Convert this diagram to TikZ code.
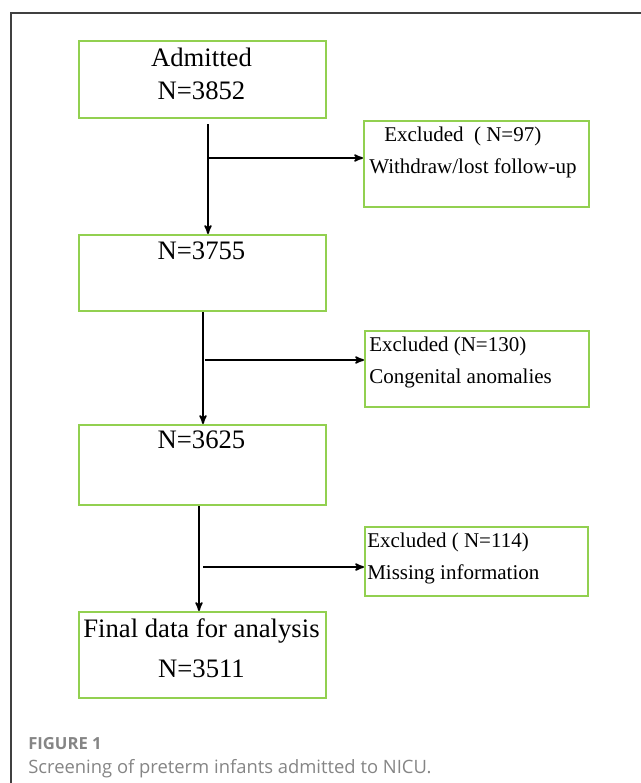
\documentclass[tikz,border=0pt]{standalone}
\usepackage{fontspec}
\setmainfont{Liberation Serif}
\newfontfamily\capfont{Open Sans}
\usepackage{tikz}
\usetikzlibrary{arrows,positioning}

\definecolor{boxgreen}{HTML}{92D050}
\definecolor{framegray}{HTML}{404040}
\definecolor{capgray}{HTML}{858585}

\begin{document}
\begin{tikzpicture}[x=0.75pt,y=-0.75pt,>=stealth',
  box/.style={draw=boxgreen,line width=1.5pt,anchor=north west,inner sep=0pt},
  mainbox/.style={box,minimum width=185.25pt},
  exbox/.style={box,minimum width=168pt},
  bigtxt/.style={anchor=base,inner sep=0pt,font=\fontsize{20}{24}\selectfont},
  smalltxt/.style={anchor=base west,inner sep=0pt,font=\fontsize{15.75}{19}\selectfont},
  arr/.style={->,line width=1.3pt}]

\useasboundingbox (0,0) rectangle (641,783);
\draw[framegray,line width=0.9pt] (11,783) -- (11,13) -- (641,13);

% flow boxes
\node[mainbox,minimum height=57.75pt] (B1) at (78,40) {};
\node[mainbox,minimum height=57pt]    (B2) at (78,234) {};
\node[mainbox,minimum height=60pt]    (B3) at (78,424) {};
\node[mainbox,minimum height=64.5pt]  (B4) at (78,611) {};

% exclusion boxes
\node[exbox,minimum width=168.75pt,minimum height=64.5pt] (E1) at (363,120) {};
\node[exbox,minimum height=57pt]    (E2) at (364,330) {};
\node[exbox,minimum width=167.25pt,minimum height=51.75pt] (E3) at (364,526) {};

% texts
\node[bigtxt] (T1a) at (201.5,66) {Admitted};
\node[bigtxt] (T1b) at (201.5,99) {N=3852};
\node[bigtxt] (T2)  at (201.5,259) {N=3755};
\node[bigtxt] (T3)  at (201.5,448) {N=3625};
\node[bigtxt] (T4a) at (201.5,637) {Final data for analysis};
\node[bigtxt] (T4b) at (201.5,677) {N=3511};

\node[smalltxt] (X1a) at (384,141) {Excluded\ \ ( N=97)};
\node[smalltxt] (X1b) at (369,173) {Withdraw/lost follow-up};
\node[smalltxt] (X2a) at (369,351) {Excluded (N=130)};
\node[smalltxt] (X2b) at (369,383) {Congenital anomalies};
\node[smalltxt] (X3a) at (367,547) {Excluded ( N=114)};
\node[smalltxt] (X3b) at (367,579) {Missing information};

% junctions
\coordinate (J1) at (208,158);
\coordinate (J2) at (203,360);
\coordinate (J3) at (199,567);

\draw[arr] ([yshift=-4pt]B1.south -| J1) -- (J1 |- B2.north);
\draw[arr] (B2.south -| J2) -- (J2 |- B3.north);
\draw[arr] (B3.south -| J3) -- (J3 |- B4.north);

\draw[arr] (J1) -- (J1 -| E1.west);
\draw[arr] ([xshift=1.5pt]J2) -- (J2 -| E2.west);
\draw[arr] ([xshift=3pt]J3) -- (J3 -| E3.west);

% caption
\node[anchor=base west,inner sep=0pt,text=capgray,font=\capfont\bfseries\fontsize{12.5}{15}\selectfont] (F1) at (28,749) {FIGURE 1};
\node[anchor=base west,inner sep=0pt,text=capgray,font=\capfont\fontsize{13.8}{16}\selectfont] (F2) at (28,773) {Screening of preterm infants admitted to NICU.};

\end{tikzpicture}
\end{document}
